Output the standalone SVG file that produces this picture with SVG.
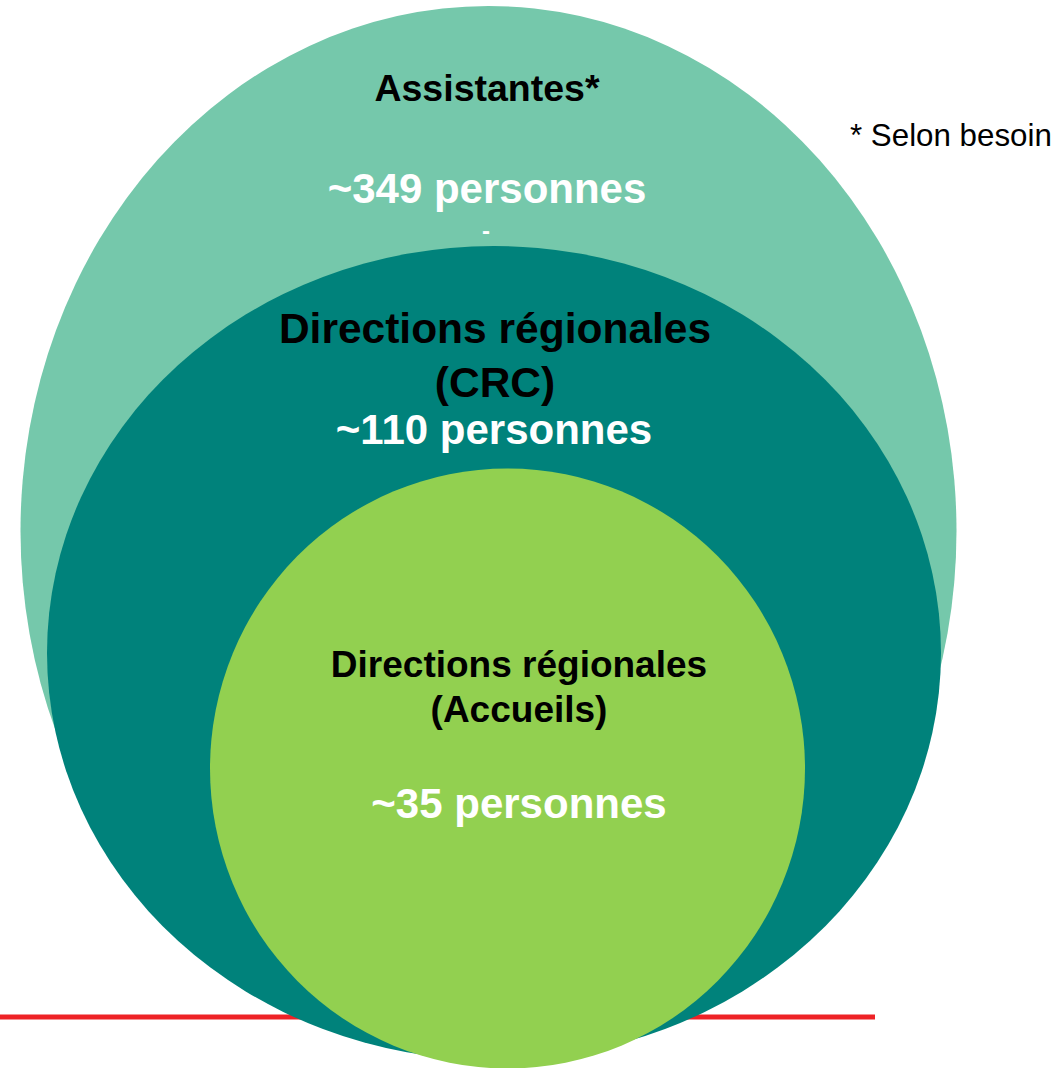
<svg xmlns="http://www.w3.org/2000/svg" width="1060" height="1068" viewBox="0 0 1060 1068">
  <style>
    text { font-family: "Liberation Sans", Arial, sans-serif; text-anchor: middle; }
    .b { font-weight: bold; }
    .dark { fill: #000000; }
    .light { fill: #FFFFFF; }
  </style>
  <rect width="1060" height="1068" fill="#FFFFFF"/>
  <!-- baseline rule -->
  <line x1="0" y1="1017" x2="875" y2="1017" stroke="#EE2226" stroke-width="5"/>
  <g id="assistantes">
    <ellipse cx="488.5" cy="531" rx="468" ry="525" fill="#75C8AB"/>
    <text class="b dark" x="487" y="101" font-size="37.5">Assistantes*</text>
    <text class="b light" x="487" y="203" font-size="42">~349 personnes</text>
    <text class="b light" x="486" y="239" font-size="24">-</text>
  </g>
  <g id="crc">
    <ellipse cx="494" cy="653" rx="447" ry="407" fill="#00827B"/>
    <text class="b dark" x="495" y="343" font-size="42.5">Directions régionales</text>
    <text class="b dark" x="495" y="397" font-size="42.5">(CRC)</text>
    <text class="b light" x="494" y="444" font-size="42">~110 personnes</text>
  </g>
  <g id="accueils">
    <ellipse cx="507.5" cy="768.5" rx="297.5" ry="300" fill="#92D050"/>
    <text class="b dark" x="519" y="677" font-size="37">Directions régionales</text>
    <text class="b dark" x="519" y="722" font-size="37">(Accueils)</text>
    <text class="b light" x="519" y="818" font-size="42">~35 personnes</text>
  </g>
  <text id="note" class="dark" x="850" y="146" font-size="31.3" style="text-anchor:start">* Selon besoin</text>
</svg>
